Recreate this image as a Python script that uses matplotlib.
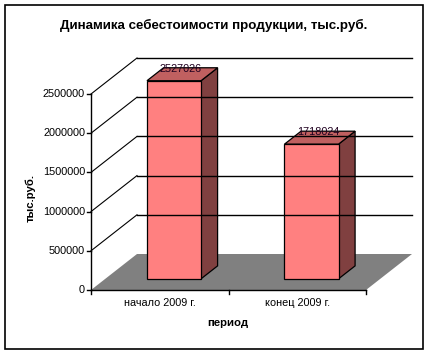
"""Динамика себестоимости продукции: Excel-style 3D column chart."""
import matplotlib
matplotlib.use("Agg")
import matplotlib.pyplot as plt
from matplotlib.patches import Polygon, Rectangle

# data
categories = ["начало 2009 г.", "конец 2009 г."]
values = [2527026, 1718024]
y_ticks = [0, 500000, 1000000, 1500000, 2000000, 2500000]
title = "Динамика себестоимости продукции, тыс.руб."
x_title = "период"
y_title = "тыс.руб."

# geometry of the oblique projection (pixels)
X0, Y0 = 91, 290          # front-left corner of the floor
CAT_W = 137.5             # width of one category on the front edge
Y_TOP = 94                # pixel row of the max tick on the front axis
DX, DY = 46, -36          # depth offset of the back wall
BAR_W = 0.393             # bar width as share of category
D0, D1 = 0.31, 0.67       # bar front / back depth
SCALE = (Y0 - Y_TOP) / y_ticks[-1]

FONT = "Liberation Sans"
plt.rcParams["font.family"] = [FONT, "DejaVu Sans"]


def proj(xc, v, d):
    return X0 + xc * CAT_W + d * DX, Y0 - v * SCALE + d * DY


def main() -> None:
    fig = plt.figure(figsize=(4.29, 3.54), dpi=100)
    ax = fig.add_axes([0, 0, 1, 1])
    ax.set_xlim(0, 429)
    ax.set_ylim(354, 0)
    ax.axis("off")

    n = len(categories)
    vmax = y_ticks[-1]

    # chart border
    ax.add_patch(Rectangle((5, 5), 417.5, 344, fill=False, ec="black", lw=1.2))

    # wall gridlines
    for v in y_ticks[1:]:
        fx, fy = proj(0, v, 0)
        bx, by = proj(0, v, 1)
        ex, _ = proj(n, v, 1)
        ax.plot([fx, bx], [fy, by], color="black", lw=0.8)
        ax.plot([bx, ex], [by, by], color="black", lw=1.0)

    # floor
    floor = [proj(0, 0, 0), proj(n, 0, 0), proj(n, 0, 1), proj(0, 0, 1)]
    ax.add_patch(Polygon(floor, closed=True, fc="#808080", ec="none"))

    # front axes
    ax.plot(*zip(proj(0, 0, 0), proj(0, vmax, 0)), color="black", lw=1.0)
    ax.plot(*zip(proj(0, 0, 0), proj(n, 0, 0)), color="black", lw=1.0)
    for v in y_ticks:
        x, y = proj(0, v, 0)
        ax.plot([x - 4, x], [y, y], color="black", lw=1.0)
        ax.text(x - 6, y, str(v), ha="right", va="center", fontsize=7.8)
    for i in range(n + 1):
        x, y = proj(i, 0, 0)
        ax.plot([x, x], [y, y + 4], color="black", lw=1.0)

    # bars
    for i, v in enumerate(values):
        xl, xr = i + 0.5 - BAR_W / 2, i + 0.5 + BAR_W / 2
        front = [proj(xl, 0, D0), proj(xr, 0, D0), proj(xr, v, D0), proj(xl, v, D0)]
        side = [proj(xr, 0, D0), proj(xr, 0, D1), proj(xr, v, D1), proj(xr, v, D0)]
        top = [proj(xl, v, D0), proj(xr, v, D0), proj(xr, v, D1), proj(xl, v, D1)]
        ax.add_patch(Polygon(side, closed=True, fc="#804040", ec="black", lw=0.9))
        ax.add_patch(Polygon(top, closed=True, fc="#C06060", ec="black", lw=0.9))
        ax.add_patch(Polygon(front, closed=True, fc="#FF8080", ec="black", lw=0.9))
        lx, ly = proj(i + 0.5, v, 0.45)
        ax.text(lx, ly - 7, str(v), ha="center", va="center", fontsize=7.8,
                color="#200020")

    # category labels
    for i, c in enumerate(categories):
        x, y = proj(i + 0.5, 0, 0)
        ax.text(x, y + 13, c, ha="center", va="center", fontsize=7.8)

    ax.text(214, 25, title, ha="center", va="center", fontsize=9.6,
            fontweight="bold")
    ax.text(228, 323, x_title, ha="center", va="center", fontsize=8.2,
            fontweight="bold")
    ax.text(30, 198, y_title, ha="center", va="center", fontsize=8.2,
            fontweight="bold", rotation=90)

    fig.savefig("out.png", dpi=100)


if __name__ == "__main__":
    main()
